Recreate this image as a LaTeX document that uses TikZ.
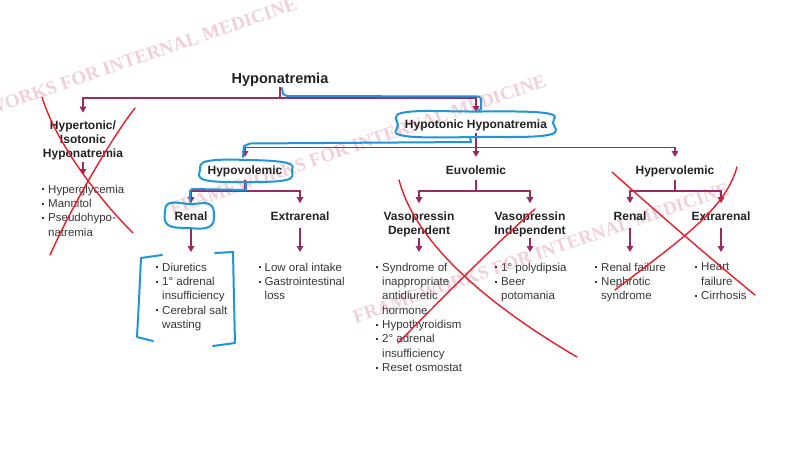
\documentclass[tikz,border=0pt]{standalone}
\usepackage{fontspec}
\setmainfont{Liberation Sans}
\newfontfamily\wmfont{Liberation Serif}
\usetikzlibrary{arrows.meta}
\definecolor{lnc}{RGB}{152,42,100}
\definecolor{txc}{RGB}{35,35,35}
\definecolor{bulc}{RGB}{55,55,55}
\definecolor{annb}{RGB}{30,150,215}
\definecolor{annr}{RGB}{232,30,40}
\definecolor{wmc}{RGB}{241,208,218}
\newcommand{\bdot}{\makebox[6pt][l]{\raisebox{2.9pt}{\rule{2pt}{2pt}}}}
\newcommand{\bind}{\hspace*{6pt}}
\tikzset{
  ln/.style={draw=lnc, line width=1.5pt},
  arr/.style={ln, -{Triangle[length=6pt,width=6.5pt]}},
  hd/.style={font=\fontsize{12}{14}\selectfont\bfseries, text=txc, inner sep=1pt, align=center, anchor=north},
  hdone/.style={hd, text depth=2.5pt},
  blist/.style={font=\fontsize{11.5}{14.3}\selectfont, text=bulc, inner sep=0pt, align=left, anchor=north west},
  wm/.style={font=\wmfont\fontsize{19}{19}\selectfont\bfseries, text=wmc, rotate=19},
  bl/.style={draw=annb, line width=2pt, line cap=round, line join=round},
  rd/.style={draw=annr, line width=1.4pt, line cap=round},
}
\begin{document}
\begin{tikzpicture}[x=1pt,y=-1pt]
\fill[white] (0,0) rectangle (801,456);
\useasboundingbox (0,0) rectangle (801,456);
% watermarks
\node[wm] (w1) at (109,68) {FRAMEWORKS FOR INTERNAL MEDICINE};
\node[wm] (w2) at (358,145) {FRAMEWORKS FOR INTERNAL MEDICINE};
\node[wm] (w3) at (541,253) {FRAMEWORKS FOR INTERNAL MEDICINE};
% headings
\node[font=\fontsize{14.5}{16}\selectfont\bfseries, text=txc, inner sep=1pt, anchor=base] (hn) at (280,83) {Hyponatremia};
\node[hd] (ht) at (83,119.7) {Hypertonic/\\Isotonic\\Hyponatremia};
\node[hdone] (hh) at (476,119) {Hypotonic Hyponatremia};
\node[hdone] (hv) at (245,165) {Hypovolemic};
\node[hdone] (eu) at (476,165) {Euvolemic};
\node[hdone] (hr) at (675,165) {Hypervolemic};
\node[hdone] (r1) at (191,210.7) {Renal};
\node[hdone] (e1) at (300,210.7) {Extrarenal};
\node[hd] (vd) at (419,210.7) {Vasopressin\\Dependent};
\node[hd] (vi) at (530,210.7) {Vasopressin\\Independent};
\node[hdone] (r3) at (630,210.7) {Renal};
\node[hdone] (e3) at (721,210.7) {Extrarenal};
% lists
\node[blist] (l0) at (42,184.8) {\bdot Hyperglycemia\\\bdot Mannitol\\\bdot Pseudohypo-\\\bind natremia};
\node[blist] (l1) at (156,262.8) {\bdot Diuretics\\\bdot 1° adrenal\\\bind insufficiency\\\bdot Cerebral salt\\\bind wasting};
\node[blist] (l2) at (258.5,262.8) {\bdot Low oral intake\\\bdot Gastrointestinal\\\bind loss};
\node[blist] (l3) at (376,262.8) {\bdot Syndrome of\\\bind inappropriate\\\bind antidiuretic\\\bind hormone\\\bdot Hypothyroidism\\\bdot 2° adrenal\\\bind insufficiency\\\bdot Reset osmostat};
\node[blist] (l4) at (495,262.8) {\bdot 1° polydipsia\\\bdot Beer\\\bind potomania};
\node[blist] (l5) at (595,262.8) {\bdot Renal failure\\\bdot Nephrotic\\\bind syndrome};
\node[blist] (l6) at (695,262.8) {\bdot Heart\\\bind failure\\\bdot Cirrhosis};
% connectors
\draw[ln] (hn.south) -- ++(0,11) coordinate (j0);
\draw[arr, shorten >=7pt] (j0) -| (ht.north);
\draw[arr, shorten >=7pt] (j0) -| (hh.north);
\draw[ln] (hh.south) -- ++(0,15) coordinate (j1);
\draw[arr, shorten >=8pt] (j1) -| (hv.north);
\draw[arr, shorten >=8pt] (j1) -- (eu.north);
\draw[arr, shorten >=8pt] (j1) -| (hr.north);
\draw[ln, shorten <=1.5pt] (hv.south) -- ++(0,12.5) coordinate (j2);
\draw[arr, shorten >=7.5pt] (j2) -| (r1.north);
\draw[arr, shorten >=7.5pt] (j2) -| (e1.north);
\draw[ln, shorten <=1.5pt] (eu.south) -- ++(0,12.5) coordinate (j3);
\draw[arr, shorten >=7.5pt] (j3) -| (vd.north);
\draw[arr, shorten >=7.5pt] (j3) -| (vi.north);
\draw[ln, shorten <=1.5pt] (hr.south) -- ++(0,12.5) coordinate (j4);
\draw[arr, shorten >=7.5pt] (j4) -| (r3.north);
\draw[arr, shorten >=7.5pt] (j4) -| (e3.north);
\draw[arr, shorten <=1pt, shorten >=9.8pt] (ht.south) -- (ht.south |- l0.north);
\draw[arr, shorten <=4pt, shorten >=10.8pt] (r1.south) -- (r1.south |- l1.north);
\draw[arr, shorten <=4pt, shorten >=10.8pt] (e1.south) -- (e1.south |- l2.north);
\draw[arr, shorten >=10.8pt] (vd.south) -- (vd.south |- l3.north);
\draw[arr, shorten >=10.8pt] (vi.south) -- (vi.south |- l4.north);
\draw[arr, shorten <=4pt, shorten >=10.8pt] (r3.south) -- (r3.south |- l5.north);
\draw[arr, shorten <=4pt, shorten >=10.8pt] (e3.south) -- (e3.south |- l6.north);
% blue annotations
\draw[bl] (282,88) -- (283,94) -- (287,96) -- (479,96.5) -- (481,99) -- (481,109) -- (478,111);
\draw[bl] plot[smooth cycle, tension=0.7] coordinates {(404,112.5) (470,111.5) (545,113) (553,123) (548,135) (480,137) (405,136) (398,125)};
\draw[bl] (470,137) -- (471,142) -- (250,143.5) -- (244,146) -- (243,157);
\draw[bl] plot[smooth cycle, tension=0.7] coordinates {(208,161) (250,160) (287,163) (292,171) (286,180) (245,182) (205,180) (200,170)};
\draw[bl] (246,182) -- (246,190) -- (192,189) -- (190,191) -- (190,201);
\draw[bl] plot[smooth cycle, tension=0.7] coordinates {(170,203) (190,204) (209,204) (214,215) (209,227) (187,228) (168,225) (165,212)};
\draw[bl] (162,255) -- (141,258) -- (139,300) -- (137,337) -- (153,341);
\draw[bl] (215,253) -- (233,252) -- (234,300) -- (235,343) -- (213,346);
% red crosses
\draw[rd] (42,97) .. controls (55,140) and (95,195) .. (133,233);
\draw[rd] (135,108) .. controls (110,140) and (70,210) .. (50,255);
\draw[rd] (399,180) .. controls (415,240) and (480,300) .. (577,357);
\draw[rd] (535,209) .. controls (500,240) and (440,300) .. (398,343);
\draw[rd] (612,172) .. controls (660,215) and (710,258) .. (755,295);
\draw[rd] (737,167) .. controls (725,210) and (680,240) .. (615,290);
\end{tikzpicture}
\end{document}
